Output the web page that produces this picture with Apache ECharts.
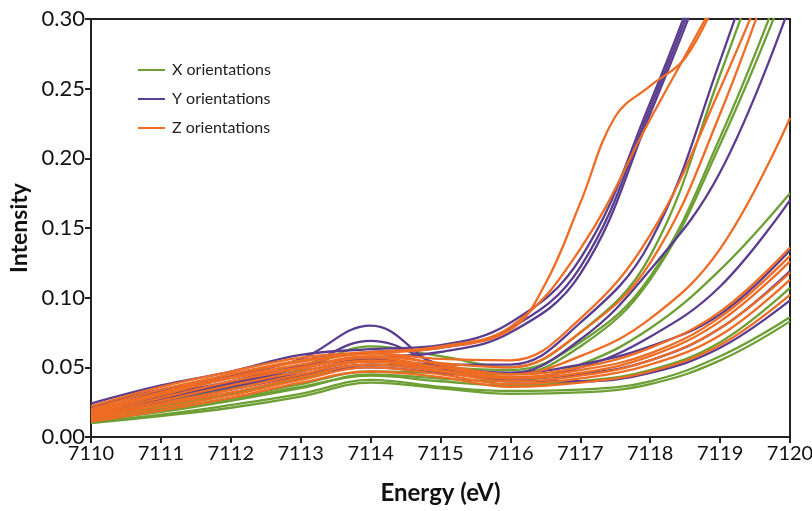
<!DOCTYPE html>
<html>
<head>
<meta charset="utf-8">
<script src="https://cdn.jsdelivr.net/npm/echarts@6/dist/echarts.min.js"></script>
<style>
  html, body { margin: 0; padding: 0; background: #fff; }
  #chart { width: 812px; height: 511px; }
</style>
</head>
<body>
<div id="chart"></div>
<script>
// energies (eV) shared by most spectra
const energy = [7110, 7111, 7112, 7113, 7114, 7115, 7116, 7117, 7118, 7119, 7120];
// the Z spectrum with the shoulder needs a finer grid
const shoulderEnergy = [7110, 7111, 7112, 7113, 7114, 7115, 7116, 7116.5, 7117, 7117.5, 7118, 7118.5, 7119];
const shoulderValues = [0.019, 0.032, 0.045, 0.055, 0.060, 0.064, 0.077, 0.110, 0.168, 0.230, 0.252, 0.272, 0.320];

const xOrient = [
  [0.015, 0.025, 0.035, 0.048, 0.065, 0.058, 0.050, 0.075, 0.130, 0.260, 0.400],
  [0.014, 0.022, 0.031, 0.042, 0.052, 0.050, 0.048, 0.068, 0.115, 0.215, 0.340],
  [0.013, 0.020, 0.028, 0.038, 0.047, 0.046, 0.045, 0.065, 0.113, 0.210, 0.330],
  [0.012, 0.018, 0.026, 0.035, 0.045, 0.042, 0.040, 0.052, 0.078, 0.120, 0.175],
  [0.013, 0.019, 0.027, 0.036, 0.044, 0.040, 0.037, 0.040, 0.048, 0.068, 0.107],
  [0.011, 0.016, 0.023, 0.031, 0.041, 0.036, 0.033, 0.034, 0.040, 0.058, 0.086],
  [0.010, 0.015, 0.021, 0.029, 0.039, 0.035, 0.031, 0.032, 0.038, 0.055, 0.083]
];
const yOrient = [
  [0.024, 0.037, 0.047, 0.059, 0.063, 0.066, 0.082, 0.128, 0.240, 0.370, 0.500],
  [0.021, 0.033, 0.043, 0.055, 0.061, 0.064, 0.078, 0.122, 0.236, 0.365, 0.500],
  [0.019, 0.030, 0.040, 0.051, 0.057, 0.061, 0.075, 0.117, 0.232, 0.360, 0.500],
  [0.017, 0.027, 0.037, 0.047, 0.055, 0.052, 0.052, 0.082, 0.140, 0.270, 0.420],
  [0.015, 0.024, 0.034, 0.044, 0.052, 0.048, 0.046, 0.070, 0.120, 0.190, 0.310],
  [0.016, 0.026, 0.036, 0.045, 0.050, 0.046, 0.042, 0.050, 0.072, 0.108, 0.170],
  [0.018, 0.029, 0.039, 0.050, 0.056, 0.050, 0.046, 0.052, 0.065, 0.088, 0.134],
  [0.022, 0.034, 0.044, 0.056, 0.080, 0.050, 0.042, 0.045, 0.055, 0.078, 0.119],
  [0.016, 0.028, 0.038, 0.050, 0.069, 0.052, 0.040, 0.040, 0.046, 0.064, 0.098]
];
const zOrient = [
  [0.022, 0.036, 0.047, 0.057, 0.061, 0.065, 0.079, 0.135, 0.228, 0.320, 0.420],
  [0.020, 0.034, 0.045, 0.054, 0.060, 0.056, 0.055, 0.085, 0.145, 0.250, 0.370],
  [0.017, 0.030, 0.042, 0.050, 0.058, 0.053, 0.050, 0.075, 0.125, 0.232, 0.370],
  [0.015, 0.026, 0.037, 0.047, 0.055, 0.050, 0.045, 0.058, 0.085, 0.135, 0.229],
  [0.018, 0.031, 0.043, 0.052, 0.060, 0.052, 0.045, 0.050, 0.064, 0.090, 0.136],
  [0.016, 0.028, 0.040, 0.049, 0.057, 0.050, 0.043, 0.048, 0.060, 0.086, 0.130],
  [0.014, 0.024, 0.034, 0.045, 0.054, 0.048, 0.042, 0.046, 0.058, 0.083, 0.126],
  [0.013, 0.023, 0.032, 0.043, 0.052, 0.047, 0.040, 0.044, 0.055, 0.078, 0.118],
  [0.012, 0.021, 0.030, 0.041, 0.050, 0.045, 0.038, 0.042, 0.052, 0.073, 0.113],
  [0.011, 0.019, 0.028, 0.039, 0.047, 0.043, 0.036, 0.039, 0.047, 0.066, 0.102]
];

const names = ['X orientations', 'Y orientations', 'Z orientations'];
const colors = ['#6d9f35', '#5a3d8f', '#ef6c24'];
const font = 'Lato';

const mkSeries = (name, color, xs, vals) => ({
  name: name,
  type: 'line',
  smooth: 0.4,
  symbol: 'none',
  color: color,
  lineStyle: { width: 2.3, color: color },
  data: xs.map((e, i) => [e, vals[i]])
});

let series = [];
xOrient.forEach(v => series.push(mkSeries(names[0], colors[0], energy, v)));
yOrient.forEach(v => series.push(mkSeries(names[1], colors[1], energy, v)));
zOrient.forEach(v => series.push(mkSeries(names[2], colors[2], energy, v)));
series.push(mkSeries(names[2], colors[2], shoulderEnergy, shoulderValues));

let chart = echarts.init(document.getElementById('chart'), null, { renderer: 'canvas' });
chart.setOption({
  animation: false,
  backgroundColor: '#fff',
  grid: {
    left: 91, right: 22, top: 19, bottom: 74,
    outerBoundsMode: 'none',
    containLabel: false,
    show: true, borderColor: '#222', borderWidth: 2
  },
  legend: {
    data: names,
    orient: 'vertical',
    left: 133,
    top: 57,
    icon: 'rect',
    itemWidth: 27,
    itemHeight: 2,
    itemGap: 13,
    textStyle: { fontFamily: font, fontSize: 16, color: '#222', padding: [0, 0, 0, 2] }
  },
  xAxis: {
    type: 'value',
    min: 7110, max: 7120, interval: 1,
    name: 'Energy (eV)',
    nameLocation: 'middle',
    nameGap: 44,
    nameTextStyle: { fontFamily: font, fontSize: 24, fontWeight: 'bold', color: '#111' },
    axisLine: { show: true, lineStyle: { color: '#222', width: 2 } },
    axisTick: { show: true, inside: false, length: 6, lineStyle: { color: '#222', width: 2 } },
    axisLabel: { fontFamily: font, fontSize: 20, color: '#111', margin: 7, formatter: (v) => String(v) },
    splitLine: { show: false }
  },
  yAxis: {
    type: 'value',
    min: 0, max: 0.3, interval: 0.05,
    name: 'Intensity',
    nameLocation: 'middle',
    nameGap: 58,
    nameTextStyle: { fontFamily: font, fontSize: 23, fontWeight: 'bold', color: '#111' },
    axisLine: { show: true, lineStyle: { color: '#222', width: 2 } },
    axisTick: { show: true, inside: false, length: 6, lineStyle: { color: '#222', width: 2 } },
    axisLabel: {
      fontFamily: font, fontSize: 22, color: '#111', margin: 6,
      formatter: (v) => v.toFixed(2)
    },
    splitLine: { show: false }
  },
  series: series
});
</script>
</body>
</html>
